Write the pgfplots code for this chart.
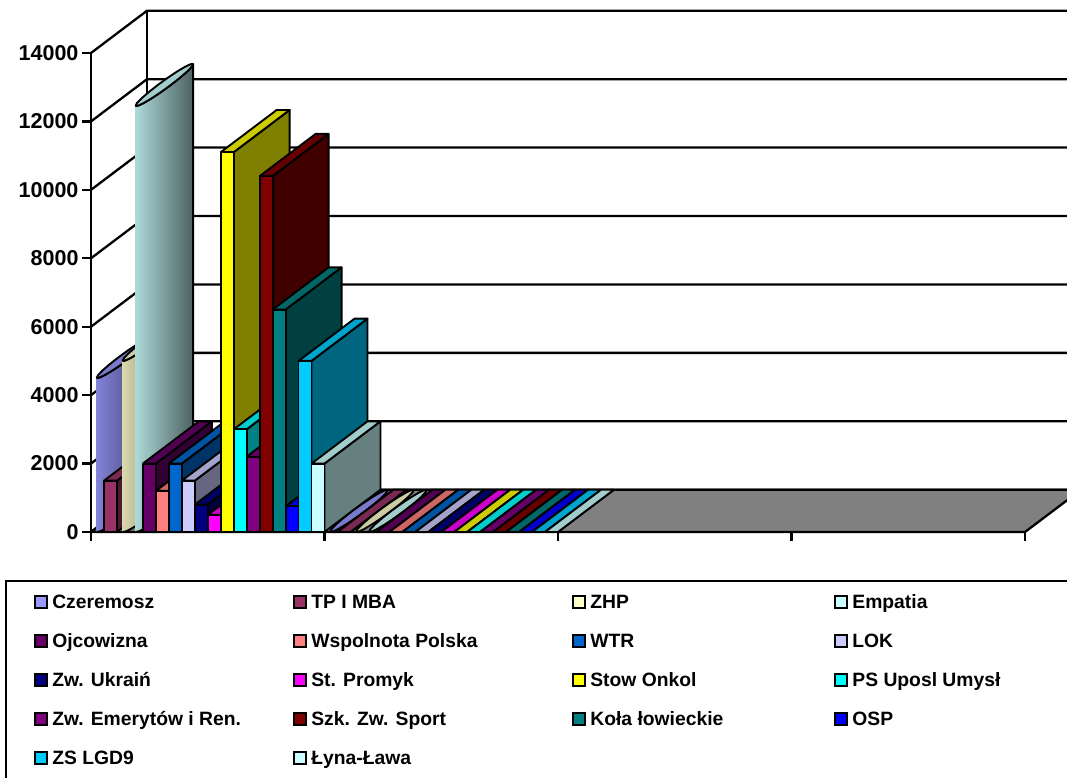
\documentclass[border=0pt]{standalone}
\usepackage{fontspec}
\setmainfont{Liberation Sans}
\usepackage{pgfplots}
\pgfplotsset{compat=1.18}
\definecolor{c1}{HTML}{9999FF}
\definecolor{c2}{HTML}{993366}
\definecolor{c3}{HTML}{FFFFCC}
\definecolor{c4}{HTML}{CCFFFF}
\definecolor{c5}{HTML}{660066}
\definecolor{c6}{HTML}{FF8080}
\definecolor{c7}{HTML}{0066CC}
\definecolor{c8}{HTML}{CCCCFF}
\definecolor{c9}{HTML}{000080}
\definecolor{c10}{HTML}{FF00FF}
\definecolor{c11}{HTML}{FFFF00}
\definecolor{c12}{HTML}{00FFFF}
\definecolor{c13}{HTML}{800080}
\definecolor{c14}{HTML}{800000}
\definecolor{c15}{HTML}{008080}
\definecolor{c16}{HTML}{0000FF}
\definecolor{c17}{HTML}{00CCFF}
\definecolor{c18}{HTML}{CCFFFF}
\def\sw{12.97}
\def\dxx{56}
\def\dyy{1235}
\def\lw{1.9pt}
\newcommand\gridl[1]{%
  \pgfmathsetmacro\yb{#1+\dyy}%
  \addplot[forget plot,draw=black,line width=2.3pt] coordinates {(91,#1)(147,\yb)(1081,\yb)};%
}
\newcommand\boxbar[3]{%
  \pgfmathsetmacro\xa{#1}%
  \pgfmathsetmacro\xb{#1+\sw}%
  \pgfmathsetmacro\xc{\xb+\dxx}%
  \pgfmathsetmacro\xd{\xa+\dxx}%
  \pgfmathsetmacro\yt{#2+\dyy}%
  \addplot[forget plot,draw=black,line width=\lw,line join=round,fill=#3!50!black] coordinates {(\xb,0)(\xc,\dyy)(\xc,\yt)(\xb,#2)(\xb,0)};%
  \addplot[forget plot,draw=black,line width=\lw,line join=round,fill=#3!80!black] coordinates {(\xa,#2)(\xb,#2)(\xc,\yt)(\xd,\yt)(\xa,#2)};%
  \addplot[forget plot,draw=black,line width=\lw,line join=round,fill=#3] coordinates {(\xa,0)(\xb,0)(\xb,#2)(\xa,#2)(\xa,0)};%
}
\newcommand\cyl[3]{%
  \pgfmathsetmacro\cx{#1+\sw/2+\dxx/2}%
  \gdef\cylpts{}%
  \foreach \t in {257,272,...,437} {%
    \pgfmathsetmacro\px{\cx+6.5*cos(\t)+28*sin(\t)}%
    \pgfmathsetmacro\py{\dyy/2+\dyy/2*sin(\t)}%
    \xdef\cylpts{\cylpts(\px,\py)}%
  }%
  \foreach \t in {437,422,...,257} {%
    \pgfmathsetmacro\px{\cx+6.5*cos(\t)+28*sin(\t)}%
    \pgfmathsetmacro\py{#2+\dyy/2+\dyy/2*sin(\t)}%
    \xdef\cylpts{\cylpts(\px,\py)}%
  }%
  \ifdim #2pt>0pt
  \addplot[forget plot,draw=black,line width=\lw,line join=round,left color=#3!85!black,middle color=#3!60!black,right color=#3!38!black] coordinates {\cylpts};%
  \fi
  \gdef\cylpts{}%
  \foreach \t in {0,20,...,360} {%
    \pgfmathsetmacro\px{\cx+6.5*cos(\t)+28*sin(\t)}%
    \pgfmathsetmacro\py{#2+\dyy/2+\dyy/2*sin(\t)}%
    \xdef\cylpts{\cylpts(\px,\py)}%
  }%
  \addplot[forget plot,draw=black,line width=\lw,line join=round,fill=#3!80!black] coordinates {\cylpts};%
}
\newcommand\lentry[3]{%
  \addlegendimage{legend image code/.code={\draw[draw=black,line width=1.7pt,fill=#1] (0pt,-6pt) rectangle (12pt,6pt);\path (17pt,0pt);}}%
  \addlegendentry{\makebox[#2pt][l]{\rule[-6pt]{0pt}{20pt}#3}}%
}
\begin{document}
\begin{tikzpicture}
\useasboundingbox (0pt,0pt) rectangle (1067pt,778pt);
\clip (0pt,0pt) rectangle (1067pt,778pt);
\draw[line width=1.8pt] (6pt,-5pt) rectangle (1090pt,197pt);
\begin{axis}[
  at={(91pt,246pt)},anchor=south west,
  scale only axis,width=934pt,height=479pt,
  xmin=91,xmax=1025,ymin=0,ymax=14000,enlargelimits=false,
  clip=false,
  axis x line=bottom,axis y line=left,
  axis line style={-,line width=2.3pt,black},
  tick style={black,line width=2.3pt},
  tick align=outside,major tick length=9pt,
  xtick={91,324.5,558,791.5,1025},xticklabels={},
  ytick={0,2000,4000,6000,8000,10000,12000,14000},
  scaled y ticks=false,
  /pgf/number format/assume math mode=true,
  /pgf/number format/set thousands separator={},
  tick label style={font=\bfseries\fontsize{21.5}{24}\selectfont},
  legend columns=4,
  legend cell align=left,
  legend style={at={(-0.0610,-0.1296)},anchor=north west,draw=none,fill=none,inner sep=0pt,
    row sep=23.5pt,column sep=0pt,
    nodes={inner sep=0pt,outer sep=0pt},
    font=\bfseries\fontsize{19.3}{22}\selectfont},
]
% floor
\addplot[forget plot,draw=black,line width=2.3pt,fill=black!50] coordinates {(91,0)(1025,0)(1081,1235)(147,1235)(91,0)};
% walls
\gridl{0}\gridl{2000}\gridl{4000}\gridl{6000}\gridl{8000}\gridl{10000}\gridl{12000}\gridl{14000}
\addplot[forget plot,draw=black,line width=2.3pt] coordinates {(147,1235)(147,15235)};
% first category
\cyl{91.00}{4500}{c1}
\boxbar{103.97}{1500}{c2}
\cyl{116.94}{5000}{c3}
\cyl{129.91}{12450}{c4}
\boxbar{142.88}{2000}{c5}
\boxbar{155.85}{1200}{c6}
\boxbar{168.82}{2000}{c7}
\boxbar{181.79}{1500}{c8}
\boxbar{194.76}{800}{c9}
\boxbar{207.73}{500}{c10}
\boxbar{220.70}{11100}{c11}
\boxbar{233.67}{3000}{c12}
\boxbar{246.64}{2200}{c13}
\boxbar{259.61}{10400}{c14}
\boxbar{272.58}{6500}{c15}
\boxbar{285.55}{750}{c16}
\boxbar{298.52}{5000}{c17}
\boxbar{311.49}{2000}{c18}
% second category: all zero
\cyl{324.50}{0}{c1}
\boxbar{337.47}{0}{c2}
\cyl{350.44}{0}{c3}
\cyl{363.41}{0}{c4}
\boxbar{376.38}{0}{c5}
\boxbar{389.35}{0}{c6}
\boxbar{402.32}{0}{c7}
\boxbar{415.29}{0}{c8}
\boxbar{428.26}{0}{c9}
\boxbar{441.23}{0}{c10}
\boxbar{454.20}{0}{c11}
\boxbar{467.17}{0}{c12}
\boxbar{480.14}{0}{c13}
\boxbar{493.11}{0}{c14}
\boxbar{506.08}{0}{c15}
\boxbar{519.05}{0}{c16}
\boxbar{532.02}{0}{c17}
\boxbar{544.99}{0}{c18}
% legend
\lentry{c1}{241}{Czeremosz}
\lentry{c2}{261}{TP I MBA}
\lentry{c3}{244}{ZHP}
\lentry{c4}{200}{Empatia}
\lentry{c5}{241}{Ojcowizna}
\lentry{c6}{261}{Wspolnota Polska}
\lentry{c7}{244}{WTR}
\lentry{c8}{200}{LOK}
\lentry{c9}{241}{Zw. Ukraiń}
\lentry{c10}{261}{St. Promyk}
\lentry{c11}{244}{Stow Onkol}
\lentry{c12}{200}{PS Uposl Umysł}
\lentry{c13}{241}{Zw. Emerytów i Ren.}
\lentry{c14}{261}{Szk. Zw. Sport}
\lentry{c15}{244}{Koła łowieckie}
\lentry{c16}{200}{OSP}
\lentry{c17}{241}{ZS LGD9}
\lentry{c18}{261}{Łyna-Ława}
\end{axis}
\end{tikzpicture}
\end{document}
